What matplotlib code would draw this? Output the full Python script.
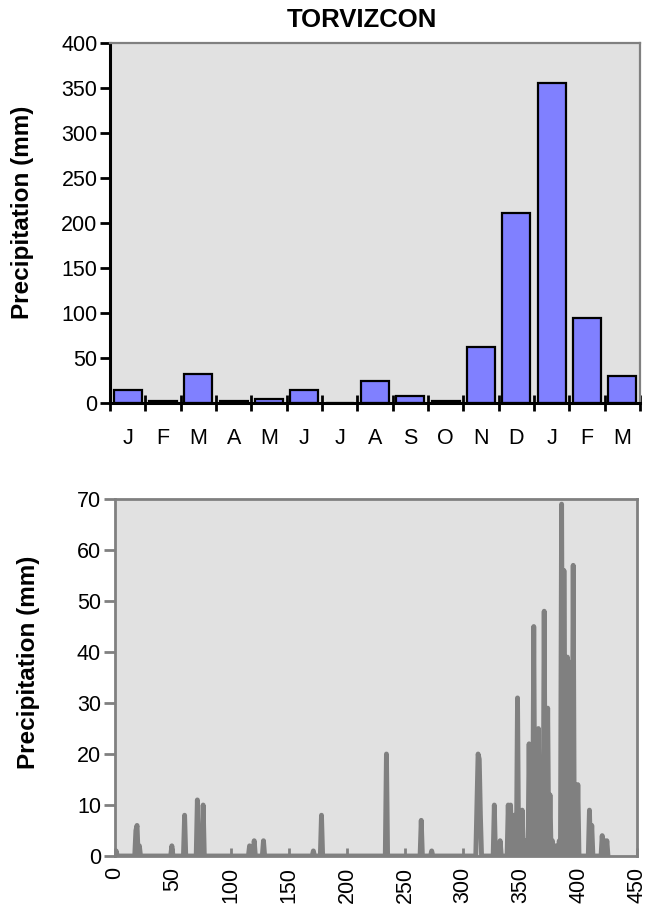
import matplotlib.pyplot as plt
import numpy as np

plt.rcParams['font.family'] = ['Liberation Sans', 'DejaVu Sans']

# monthly totals (mm)
months = ['J', 'F', 'M', 'A', 'M', 'J', 'J', 'A', 'S', 'O', 'N', 'D', 'J', 'F', 'M']
monthly_mm = [15, 2, 32, 2, 5, 15, 0, 24, 8, 2, 62, 211, 356, 94, 30]

# daily series: days with rain and the amount, every other day is dry
n_days = 426
rain_days = [1, 18, 19, 21, 49, 60, 71, 76, 116, 120, 128, 171, 178, 234, 264, 273,
             312, 313, 314, 315, 327, 332, 339, 341, 344, 347, 351, 354, 357, 359, 361,
             365, 368, 370, 373, 375, 377, 380, 383, 385, 387, 388, 390, 392, 395, 397, 399,
             409, 411, 420, 422, 424]
rain_mm = [1, 5, 6, 2, 2, 8, 11, 10, 2, 3, 3, 1, 8, 20, 7, 1,
           10, 20, 19, 8, 10, 3, 10, 10, 8, 31, 9, 3, 22, 5, 45,
           25, 6, 48, 29, 12, 3, 2, 3, 69, 56, 20, 39, 38, 57, 14, 14,
           9, 6, 4, 3, 3]

daily = np.zeros(n_days)
daily[rain_days] = rain_mm

W, H = 647, 913
fig = plt.figure(figsize=(W / 100, H / 100), dpi=100)

gray = '#808080'
face = '#e1e1e1'
tick_fs = 15.5

# --- top: monthly bars ---
ax1 = fig.add_axes([110 / W, 1 - 403 / H, 530 / W, 360 / H])
ax1.set_facecolor(face)
x = np.arange(len(months))
ax1.bar(x, monthly_mm, width=0.8, color='#8080ff', edgecolor='black', linewidth=1.6, zorder=3)
ax1.set_xlim(-0.5, len(months) - 0.5)
ax1.set_ylim(0, 400)
ax1.set_yticks(np.arange(0, 401, 50))
ax1.set_xticks(np.arange(-0.5, len(months), 1))
ax1.set_xticklabels([])
ax1.set_xticks(x, minor=True)
ax1.set_xticklabels(months, minor=True, fontsize=tick_fs)
ax1.tick_params(axis='x', which='major', direction='inout', length=12, width=2, color='black')
ax1.tick_params(axis='x', which='minor', length=0, pad=18)
ax1.tick_params(axis='y', direction='out', length=7, width=2, color='black', pad=2, labelsize=tick_fs)
for s in ['left', 'bottom']:
    ax1.spines[s].set_color('black')
    ax1.spines[s].set_linewidth(2.2)
for s in ['top', 'right']:
    ax1.spines[s].set_color(gray)
    ax1.spines[s].set_linewidth(1.6)
ax1.spines['bottom'].set_zorder(4)

fig.text(362 / W, 1 - 20 / H, 'TORVIZCON', ha='center', va='center',
         fontsize=18.5, fontweight='bold')
fig.text(23 / W, 1 - 212 / H, 'Precipitation (mm)', rotation=90, ha='center', va='center',
         fontsize=17.5, fontweight='bold')

# --- bottom: daily series ---
ax2 = fig.add_axes([115 / W, 1 - 856 / H, 522 / W, 357 / H])
ax2.set_facecolor(face)
ax2.plot(np.arange(n_days), daily, color=gray, linewidth=3.5,
         solid_joinstyle='round', solid_capstyle='round', zorder=3)
ax2.set_xlim(0, 450)
ax2.set_ylim(0, 70)
ax2.set_xticks(np.arange(0, 451, 50))
ax2.set_yticks(np.arange(0, 71, 10))
ax2.tick_params(axis='x', direction='in', length=6, width=2, color=gray, pad=8,
                labelsize=tick_fs, labelrotation=90)
ax2.tick_params(axis='y', direction='out', length=8, width=2, color=gray, pad=2, labelsize=tick_fs)
for s in ax2.spines.values():
    s.set_color(gray)
    s.set_linewidth(2)

fig.text(29 / W, 1 - 662 / H, 'Precipitation (mm)', rotation=90, ha='center', va='center',
         fontsize=17.5, fontweight='bold')

fig.savefig('out.png', dpi=100)
